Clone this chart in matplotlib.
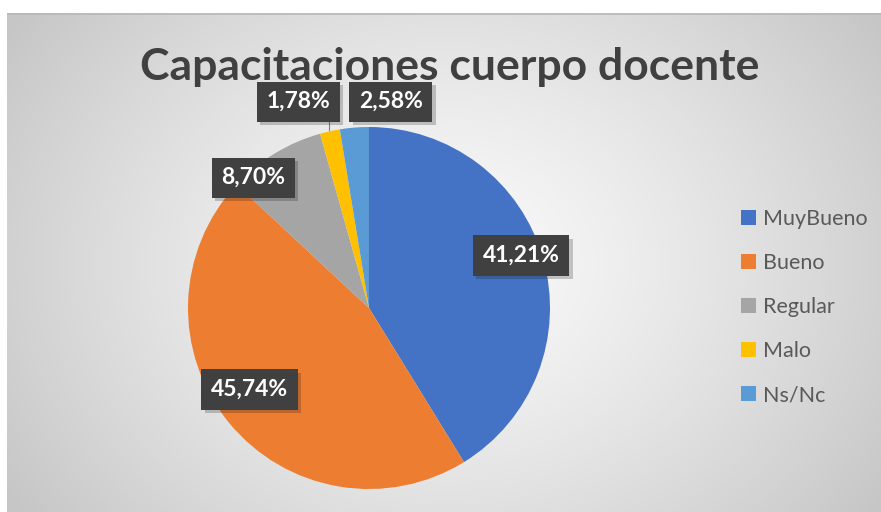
import numpy as np
import matplotlib
matplotlib.use("Agg")
import matplotlib.pyplot as plt
import matplotlib.patheffects as pe
from matplotlib.patches import Patch

# ---- DATA ----
categories = ["MuyBueno", "Bueno", "Regular", "Malo", "Ns/Nc"]
values = [41.21, 45.74, 8.70, 1.78, 2.58]
value_labels = ["41,21%", "45,74%", "8,70%", "1,78%", "2,58%"]
colors = ["#4472C4", "#ED7D31", "#A5A5A5", "#FFC000", "#5B9BD5"]

# label box centres (pie units, radius = 1)
label_pos = [(0.84, 0.29), (-0.66, -0.45), (-0.64, 0.72), (-0.39, 1.14), (0.12, 1.14)]

plt.rcParams["font.family"] = ["Lato", "DejaVu Sans"]

W, H = 881, 512
fig = plt.figure(figsize=(W / 100, H / 100), dpi=100)
fig.patch.set_facecolor("white")

# ---- BACKGROUND (radial gradient chart area) ----
bg = fig.add_axes([7 / W, 0, (W - 7) / W, (H - 13) / H])
bg.set_axis_off()
yy, xx = np.mgrid[0:499, 0:874]
cx, cy = 440, 250
d = np.sqrt(((xx - cx) / 520.0) ** 2 + ((yy - cy) / 420.0) ** 2)
d = np.clip(d, 0, 1)
shade = 0.98 - 0.2 * d ** 1.3
bg.imshow(np.dstack([shade] * 3), aspect="auto", extent=(0, 1, 0, 1),
          interpolation="bilinear")
bg.plot([0, 1], [0.998, 0.998], color="#b8b8b8", lw=1.2, transform=bg.transAxes)
bg.set_xlim(0, 1)
bg.set_ylim(0, 1)

# ---- PIE ----
r_px = 181
ax = fig.add_axes([(369 - r_px) / W, (204 - r_px) / H, 2 * r_px / W, 2 * r_px / H])
wedges, _ = ax.pie(values, colors=colors, startangle=90, counterclock=False,
                   wedgeprops=dict(linewidth=0))
ax.set_xlim(-1, 1)
ax.set_ylim(-1, 1)
ax.set_aspect("equal")
ax.set_axis_off()

# leader line for Malo
ax.plot([-0.22, -0.22], [1.03, 0.985], color="#7f7f7f", lw=0.8, clip_on=False)

for (x, y), txt in zip(label_pos, value_labels):
    t = ax.text(x, y, txt, ha="center", va="center", fontsize=16.5,
                fontweight="bold", color="white", zorder=5,
                bbox=dict(boxstyle="square,pad=0.42", facecolor="#404040",
                          edgecolor="none"))
    t.get_bbox_patch().set_path_effects(
        [pe.SimplePatchShadow(offset=(2.5, -2.5), alpha=0.22), pe.Normal()])

# ---- TITLE ----
fig.text(450 / W, 1 - 67 / H, "Capacitaciones cuerpo docente", ha="center",
         va="center", fontsize=32, fontweight="bold", color="#404040")

# ---- LEGEND ----
handles = [Patch(facecolor=c, edgecolor="none") for c in colors]
fig.legend(handles, categories, loc="center left",
           bbox_to_anchor=(741 / W, 1 - 307 / H), frameon=False,
           fontsize=15.5, labelcolor="#595959", handlelength=0.68,
           handleheight=0.68, handletextpad=0.35, labelspacing=1.12,
           borderaxespad=0, borderpad=0)

fig.savefig("out.png", dpi=100)
